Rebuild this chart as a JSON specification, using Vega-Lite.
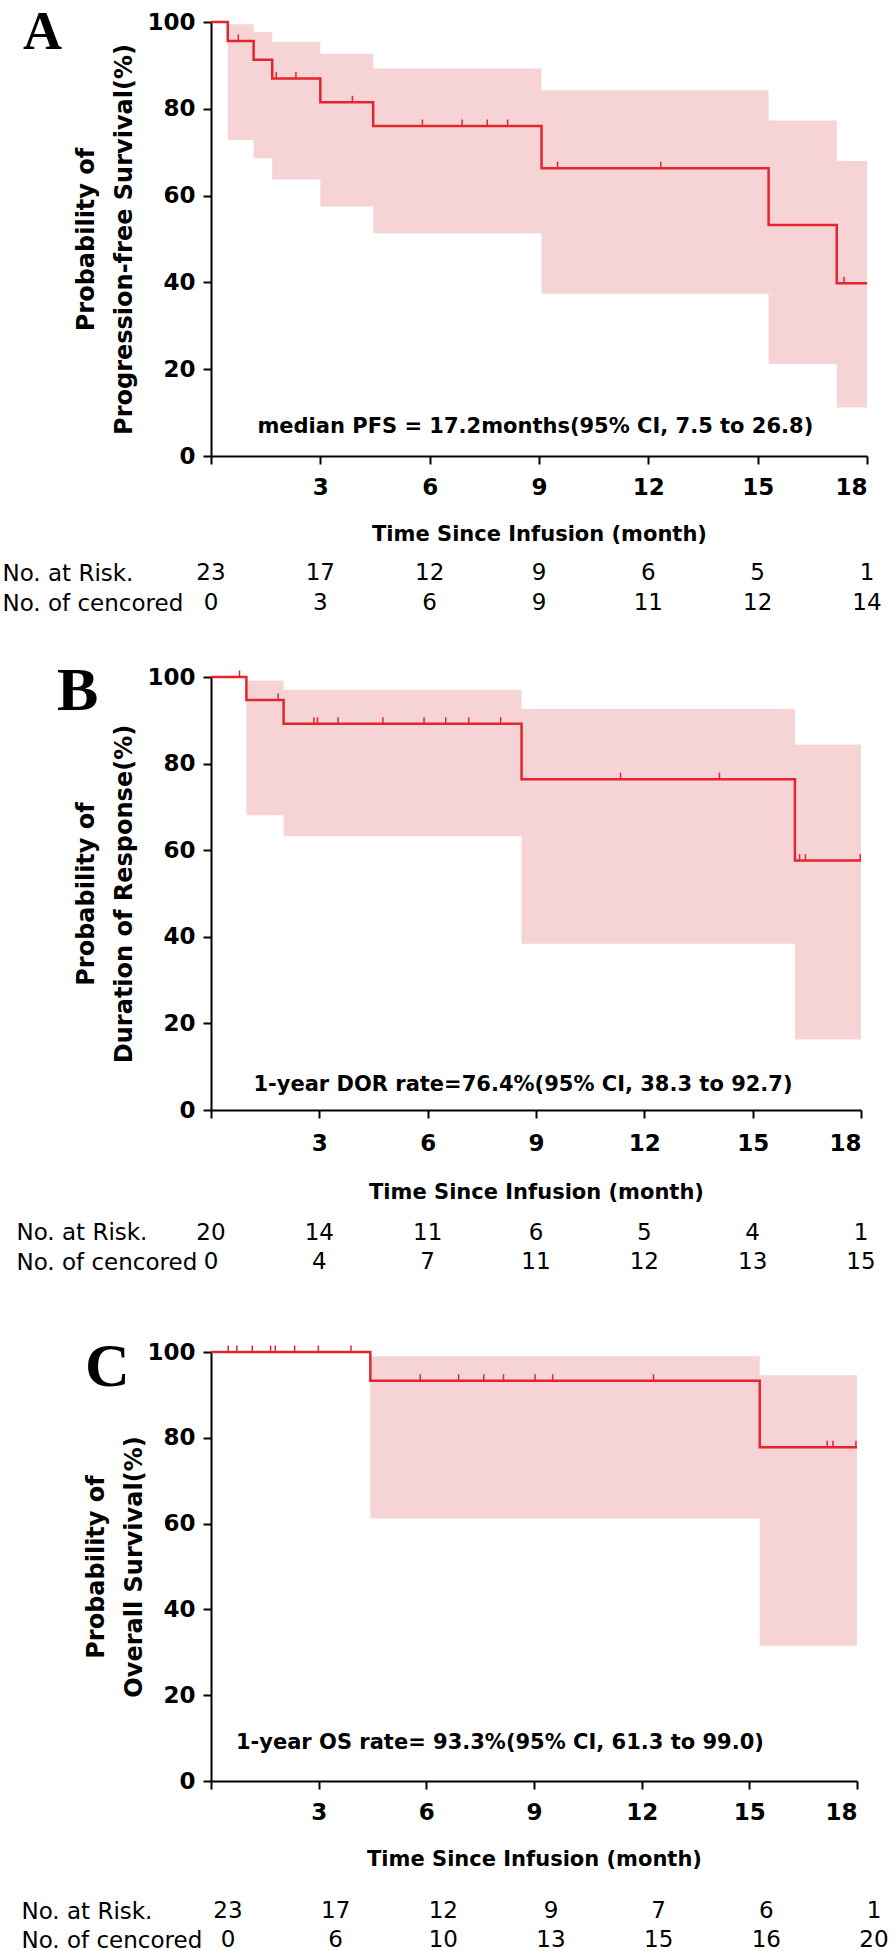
{
  "$schema": "https://vega.github.io/schema/vega-lite/v6.json",
  "background": "white",
  "padding": {"left": 2, "top": 6, "right": 0, "bottom": 0},
  "bounds": "flush",
  "spacing": 0,
  "config": {
    "font": "DejaVu Sans",
    "view": {"stroke": null},
    "axis": {"grid": false, "domainColor": "black", "tickColor": "black", "labelColor": "black", "titleColor": "black"}
  },
  "datasets": {
    "km": [
      {"p": "A", "t": 0, "s": 100}, {"p": "A", "t": 0.46, "s": 95.65}, {"p": "A", "t": 1.17, "s": 91.3}, {"p": "A", "t": 1.68, "s": 86.96}, {"p": "A", "t": 3.0, "s": 81.5}, {"p": "A", "t": 4.45, "s": 76.05}, {"p": "A", "t": 9.07, "s": 66.3}, {"p": "A", "t": 15.3, "s": 53.2}, {"p": "A", "t": 17.17, "s": 39.8}, {"p": "A", "t": 18, "s": 39.8},
      {"p": "B", "t": 0, "s": 100}, {"p": "B", "t": 0.98, "s": 94.7}, {"p": "B", "t": 2.01, "s": 89.2}, {"p": "B", "t": 8.6, "s": 76.4}, {"p": "B", "t": 16.17, "s": 57.6}, {"p": "B", "t": 18, "s": 57.6},
      {"p": "C", "t": 0, "s": 100}, {"p": "C", "t": 4.44, "s": 93.3}, {"p": "C", "t": 15.29, "s": 77.8}, {"p": "C", "t": 18, "s": 77.8}
    ],
    "ci": [
      {"p": "A", "t": 0, "hi": 100, "lo": 100}, {"p": "A", "t": 0.46, "hi": 99.5, "lo": 72.8}, {"p": "A", "t": 1.17, "hi": 97.7, "lo": 68.6}, {"p": "A", "t": 1.68, "hi": 95.4, "lo": 63.7}, {"p": "A", "t": 3.0, "hi": 92.7, "lo": 57.5}, {"p": "A", "t": 4.45, "hi": 89.3, "lo": 51.3}, {"p": "A", "t": 9.07, "hi": 84.3, "lo": 37.4}, {"p": "A", "t": 15.3, "hi": 77.3, "lo": 21.2}, {"p": "A", "t": 17.17, "hi": 68.0, "lo": 11.2}, {"p": "A", "t": 18, "hi": 68.0, "lo": 11.2},
      {"p": "B", "t": 0, "hi": 100, "lo": 100}, {"p": "B", "t": 0.98, "hi": 99.2, "lo": 68.1}, {"p": "B", "t": 2.01, "hi": 97.0, "lo": 63.2}, {"p": "B", "t": 8.6, "hi": 92.6, "lo": 38.4}, {"p": "B", "t": 16.17, "hi": 84.4, "lo": 16.3}, {"p": "B", "t": 18, "hi": 84.4, "lo": 16.3},
      {"p": "C", "t": 0, "hi": 100, "lo": 100}, {"p": "C", "t": 4.44, "hi": 99.0, "lo": 61.2}, {"p": "C", "t": 15.29, "hi": 94.6, "lo": 31.5}, {"p": "C", "t": 18, "hi": 94.6, "lo": 31.5}
    ],
    "cens": [
      {"p": "A", "t": 0.75, "s": 95.65}, {"p": "A", "t": 1.79, "s": 86.96}, {"p": "A", "t": 2.33, "s": 86.96}, {"p": "A", "t": 3.88, "s": 81.5}, {"p": "A", "t": 5.8, "s": 76.05}, {"p": "A", "t": 6.89, "s": 76.05}, {"p": "A", "t": 7.58, "s": 76.05}, {"p": "A", "t": 8.14, "s": 76.05}, {"p": "A", "t": 9.51, "s": 66.3}, {"p": "A", "t": 12.34, "s": 66.3}, {"p": "A", "t": 17.37, "s": 39.8},
      {"p": "B", "t": 0.79, "s": 100}, {"p": "B", "t": 1.86, "s": 94.7}, {"p": "B", "t": 2.85, "s": 89.2}, {"p": "B", "t": 2.95, "s": 89.2}, {"p": "B", "t": 3.52, "s": 89.2}, {"p": "B", "t": 4.76, "s": 89.2}, {"p": "B", "t": 5.9, "s": 89.2}, {"p": "B", "t": 6.5, "s": 89.2}, {"p": "B", "t": 7.14, "s": 89.2}, {"p": "B", "t": 8.02, "s": 89.2}, {"p": "B", "t": 11.34, "s": 76.4}, {"p": "B", "t": 14.08, "s": 76.4}, {"p": "B", "t": 16.3, "s": 57.6}, {"p": "B", "t": 16.46, "s": 57.6}, {"p": "B", "t": 17.98, "s": 57.6},
      {"p": "C", "t": 0.48, "s": 100}, {"p": "C", "t": 0.72, "s": 100}, {"p": "C", "t": 1.15, "s": 100}, {"p": "C", "t": 1.66, "s": 100}, {"p": "C", "t": 1.79, "s": 100}, {"p": "C", "t": 2.33, "s": 100}, {"p": "C", "t": 2.99, "s": 100}, {"p": "C", "t": 3.9, "s": 100}, {"p": "C", "t": 5.83, "s": 93.3}, {"p": "C", "t": 6.9, "s": 93.3}, {"p": "C", "t": 7.6, "s": 93.3}, {"p": "C", "t": 8.15, "s": 93.3}, {"p": "C", "t": 9.03, "s": 93.3}, {"p": "C", "t": 9.52, "s": 93.3}, {"p": "C", "t": 12.33, "s": 93.3}, {"p": "C", "t": 17.17, "s": 77.8}, {"p": "C", "t": 17.33, "s": 77.8}, {"p": "C", "t": 17.97, "s": 77.8}
    ],
    "risk": [
      {"p": "A", "row": "No. at Risk.", "t": 0, "n": 23}, {"p": "A", "row": "No. at Risk.", "t": 3, "n": 17}, {"p": "A", "row": "No. at Risk.", "t": 6, "n": 12}, {"p": "A", "row": "No. at Risk.", "t": 9, "n": 9}, {"p": "A", "row": "No. at Risk.", "t": 12, "n": 6}, {"p": "A", "row": "No. at Risk.", "t": 15, "n": 5}, {"p": "A", "row": "No. at Risk.", "t": 18, "n": 1},
      {"p": "A", "row": "No. of cencored", "t": 0, "n": 0}, {"p": "A", "row": "No. of cencored", "t": 3, "n": 3}, {"p": "A", "row": "No. of cencored", "t": 6, "n": 6}, {"p": "A", "row": "No. of cencored", "t": 9, "n": 9}, {"p": "A", "row": "No. of cencored", "t": 12, "n": 11}, {"p": "A", "row": "No. of cencored", "t": 15, "n": 12}, {"p": "A", "row": "No. of cencored", "t": 18, "n": 14},
      {"p": "B", "row": "No. at Risk.", "t": 0, "n": 20}, {"p": "B", "row": "No. at Risk.", "t": 3, "n": 14}, {"p": "B", "row": "No. at Risk.", "t": 6, "n": 11}, {"p": "B", "row": "No. at Risk.", "t": 9, "n": 6}, {"p": "B", "row": "No. at Risk.", "t": 12, "n": 5}, {"p": "B", "row": "No. at Risk.", "t": 15, "n": 4}, {"p": "B", "row": "No. at Risk.", "t": 18, "n": 1},
      {"p": "B", "row": "No. of cencored", "t": 0, "n": 0}, {"p": "B", "row": "No. of cencored", "t": 3, "n": 4}, {"p": "B", "row": "No. of cencored", "t": 6, "n": 7}, {"p": "B", "row": "No. of cencored", "t": 9, "n": 11}, {"p": "B", "row": "No. of cencored", "t": 12, "n": 12}, {"p": "B", "row": "No. of cencored", "t": 15, "n": 13}, {"p": "B", "row": "No. of cencored", "t": 18, "n": 15},
      {"p": "C", "row": "No. at Risk.", "t": 0, "n": 23}, {"p": "C", "row": "No. at Risk.", "t": 3, "n": 17}, {"p": "C", "row": "No. at Risk.", "t": 6, "n": 12}, {"p": "C", "row": "No. at Risk.", "t": 9, "n": 9}, {"p": "C", "row": "No. at Risk.", "t": 12, "n": 7}, {"p": "C", "row": "No. at Risk.", "t": 15, "n": 6}, {"p": "C", "row": "No. at Risk.", "t": 18, "n": 1},
      {"p": "C", "row": "No. of cencored", "t": 0, "n": 0}, {"p": "C", "row": "No. of cencored", "t": 3, "n": 6}, {"p": "C", "row": "No. of cencored", "t": 6, "n": 10}, {"p": "C", "row": "No. of cencored", "t": 9, "n": 13}, {"p": "C", "row": "No. of cencored", "t": 12, "n": 15}, {"p": "C", "row": "No. of cencored", "t": 15, "n": 16}, {"p": "C", "row": "No. of cencored", "t": 18, "n": 20}
    ]
  },
  "vconcat": [
    {
      "width": 656, "height": 434,
      "title": {"text": "A", "orient": "top", "anchor": "start", "frame": "group", "align": "left", "baseline": "alphabetic", "offset": 0, "dx": -188, "dy": 92, "font": "Liberation Serif", "fontSize": 54, "fontWeight": "bold", "color": "black"},
      "layer": [
        {
          "data": {"name": "ci"}, "transform": [{"filter": "datum.p == 'A'"}],
          "mark": {"type": "area", "interpolate": "step-after", "color": "#f6d4d6", "opacity": 1},
          "encoding": {
            "x": {"field": "t", "type": "quantitative", "scale": {"domain": [0, 18], "nice": false},
              "axis": {"values": [0, 3, 6, 9, 12, 15, 18], "labelExpr": "datum.value == 0 ? '' : datum.label", "domainWidth": 2, "tickWidth": 2, "tickSize": 8, "labelFontSize": 23, "labelFontWeight": "bold", "labelPadding": 12, "title": "Time Since Infusion (month)", "titleFontSize": 21, "titleFontWeight": "bold", "titlePadding": 24}},
            "y": {"field": "hi", "type": "quantitative", "scale": {"domain": [0, 100], "nice": false},
              "axis": {"values": [0, 20, 40, 60, 80, 100], "domainWidth": 2, "tickWidth": 2, "tickSize": 8, "labelFontSize": 23, "labelFontWeight": "bold", "labelPadding": 8, "title": ["Probability of", "Progression-free Survival(%)"], "titleFontSize": 24, "titleFontWeight": "bold", "titleLineHeight": 38, "titlePadding": 10}},
            "y2": {"field": "lo"}
          }
        },
        {
          "data": {"name": "km"}, "transform": [{"filter": "datum.p == 'A'"}],
          "mark": {"type": "line", "interpolate": "step-after", "color": "#e4252d", "strokeWidth": 2.5},
          "encoding": {"x": {"field": "t", "type": "quantitative"}, "y": {"field": "s", "type": "quantitative"}}
        },
        {
          "data": {"name": "cens"}, "transform": [{"filter": "datum.p == 'A'"}],
          "mark": {"type": "tick", "orient": "vertical", "color": "#e4252d", "thickness": 1.5, "size": 7, "yOffset": -3, "opacity": 1},
          "encoding": {"x": {"field": "t", "type": "quantitative"}, "y": {"field": "s", "type": "quantitative"}}
        },
        {
          "data": {"values": [{}]},
          "mark": {"type": "text", "fontSize": 21, "fontWeight": "bold", "color": "black", "align": "center", "baseline": "middle"},
          "encoding": {"x": {"datum": 8.9, "type": "quantitative"}, "y": {"datum": 6.7, "type": "quantitative"}, "text": {"value": "median PFS = 17.2months(95% CI, 7.5 to 26.8)"}}
        }
      ]
    },
    {
      "width": 656, "height": 221,
      "data": {"name": "risk"}, "transform": [{"filter": "datum.p == 'A'"}],
      "mark": {"type": "text", "fontSize": 23, "color": "black", "align": "center", "baseline": "middle"},
      "encoding": {
        "x": {"field": "t", "type": "quantitative", "scale": {"domain": [0, 18], "nice": false}, "axis": null},
        "y": {"field": "row", "type": "nominal", "scale": {"type": "point", "domain": ["No. at Risk.", "No. of cencored"], "range": [117, 147], "padding": 0},
          "axis": {"domain": false, "ticks": false, "labelAlign": "left", "labelBaseline": "middle", "labelPadding": 209, "labelLimit": 0, "labelFontSize": 23, "labelColor": "black", "title": null}},
        "text": {"field": "n", "type": "quantitative"}
      }
    },
    {
      "width": 650, "height": 433,
      "title": {"text": "B", "orient": "top", "anchor": "start", "frame": "group", "align": "left", "baseline": "alphabetic", "offset": 0, "dx": -154, "dy": 106, "font": "Liberation Serif", "fontSize": 62, "fontWeight": "bold", "color": "black"},
      "layer": [
        {
          "data": {"name": "ci"}, "transform": [{"filter": "datum.p == 'B'"}],
          "mark": {"type": "area", "interpolate": "step-after", "color": "#f6d4d6", "opacity": 1},
          "encoding": {
            "x": {"field": "t", "type": "quantitative", "scale": {"domain": [0, 18], "nice": false},
              "axis": {"values": [0, 3, 6, 9, 12, 15, 18], "labelExpr": "datum.value == 0 ? '' : datum.label", "domainWidth": 2, "tickWidth": 2, "tickSize": 8, "labelFontSize": 23, "labelFontWeight": "bold", "labelPadding": 14, "title": "Time Since Infusion (month)", "titleFontSize": 21, "titleFontWeight": "bold", "titlePadding": 26}},
            "y": {"field": "hi", "type": "quantitative", "scale": {"domain": [0, 100], "nice": false},
              "axis": {"values": [0, 20, 40, 60, 80, 100], "domainWidth": 2, "tickWidth": 2, "tickSize": 8, "labelFontSize": 23, "labelFontWeight": "bold", "labelPadding": 8, "title": ["Probability of", "Duration of Response(%)"], "titleFontSize": 24, "titleFontWeight": "bold", "titleLineHeight": 38, "titlePadding": 10}},
            "y2": {"field": "lo"}
          }
        },
        {
          "data": {"name": "km"}, "transform": [{"filter": "datum.p == 'B'"}],
          "mark": {"type": "line", "interpolate": "step-after", "color": "#e4252d", "strokeWidth": 2.5},
          "encoding": {"x": {"field": "t", "type": "quantitative"}, "y": {"field": "s", "type": "quantitative"}}
        },
        {
          "data": {"name": "cens"}, "transform": [{"filter": "datum.p == 'B'"}],
          "mark": {"type": "tick", "orient": "vertical", "color": "#e4252d", "thickness": 1.5, "size": 7, "yOffset": -3, "opacity": 1},
          "encoding": {"x": {"field": "t", "type": "quantitative"}, "y": {"field": "s", "type": "quantitative"}}
        },
        {
          "data": {"values": [{}]},
          "mark": {"type": "text", "fontSize": 21, "fontWeight": "bold", "color": "black", "align": "center", "baseline": "middle"},
          "encoding": {"x": {"datum": 8.64, "type": "quantitative"}, "y": {"datum": 5.8, "type": "quantitative"}, "text": {"value": "1-year DOR rate=76.4%(95% CI, 38.3 to 92.7)"}}
        }
      ]
    },
    {
      "width": 650, "height": 242,
      "data": {"name": "risk"}, "transform": [{"filter": "datum.p == 'B'"}],
      "mark": {"type": "text", "fontSize": 23, "color": "black", "align": "center", "baseline": "middle"},
      "encoding": {
        "x": {"field": "t", "type": "quantitative", "scale": {"domain": [0, 18], "nice": false}, "axis": null},
        "y": {"field": "row", "type": "nominal", "scale": {"type": "point", "domain": ["No. at Risk.", "No. of cencored"], "range": [122.7, 152.2], "padding": 0},
          "axis": {"domain": false, "ticks": false, "labelAlign": "left", "labelBaseline": "middle", "labelPadding": 195, "labelLimit": 0, "labelFontSize": 23, "labelColor": "black", "title": null}},
        "text": {"field": "n", "type": "quantitative"}
      }
    },
    {
      "width": 646, "height": 429,
      "title": {"text": "C", "orient": "top", "anchor": "start", "frame": "group", "align": "left", "baseline": "alphabetic", "offset": 0, "dx": -126, "dy": 107, "font": "Liberation Serif", "fontSize": 62, "fontWeight": "bold", "color": "black"},
      "layer": [
        {
          "data": {"name": "ci"}, "transform": [{"filter": "datum.p == 'C'"}],
          "mark": {"type": "area", "interpolate": "step-after", "color": "#f6d4d6", "opacity": 1},
          "encoding": {
            "x": {"field": "t", "type": "quantitative", "scale": {"domain": [0, 18], "nice": false},
              "axis": {"values": [0, 3, 6, 9, 12, 15, 18], "labelExpr": "datum.value == 0 ? '' : datum.label", "domainWidth": 2, "tickWidth": 2, "tickSize": 8, "labelFontSize": 23, "labelFontWeight": "bold", "labelPadding": 12, "title": "Time Since Infusion (month)", "titleFontSize": 21, "titleFontWeight": "bold", "titlePadding": 24}},
            "y": {"field": "hi", "type": "quantitative", "scale": {"domain": [0, 100], "nice": false},
              "axis": {"values": [0, 20, 40, 60, 80, 100], "domainWidth": 2, "tickWidth": 2, "tickSize": 8, "labelFontSize": 23, "labelFontWeight": "bold", "labelPadding": 8, "title": ["Probability of", "Overall Survival(%)"], "titleFontSize": 24, "titleFontWeight": "bold", "titleLineHeight": 38, "titlePadding": 0}},
            "y2": {"field": "lo"}
          }
        },
        {
          "data": {"name": "km"}, "transform": [{"filter": "datum.p == 'C'"}],
          "mark": {"type": "line", "interpolate": "step-after", "color": "#e4252d", "strokeWidth": 2.5},
          "encoding": {"x": {"field": "t", "type": "quantitative"}, "y": {"field": "s", "type": "quantitative"}}
        },
        {
          "data": {"name": "cens"}, "transform": [{"filter": "datum.p == 'C'"}],
          "mark": {"type": "tick", "orient": "vertical", "color": "#e4252d", "thickness": 1.5, "size": 7, "yOffset": -3, "opacity": 1},
          "encoding": {"x": {"field": "t", "type": "quantitative"}, "y": {"field": "s", "type": "quantitative"}}
        },
        {
          "data": {"values": [{}]},
          "mark": {"type": "text", "fontSize": 21, "fontWeight": "bold", "color": "black", "align": "center", "baseline": "middle"},
          "encoding": {"x": {"datum": 8.05, "type": "quantitative"}, "y": {"datum": 8.9, "type": "quantitative"}, "text": {"value": "1-year OS rate= 93.3%(95% CI, 61.3 to 99.0)"}}
        }
      ]
    },
    {
      "width": 646, "height": 165,
      "data": {"name": "risk"}, "transform": [{"filter": "datum.p == 'C'"}],
      "mark": {"type": "text", "fontSize": 23, "color": "black", "align": "center", "baseline": "middle", "dx": 17},
      "encoding": {
        "x": {"field": "t", "type": "quantitative", "scale": {"domain": [0, 18], "nice": false}, "axis": null},
        "y": {"field": "row", "type": "nominal", "scale": {"type": "point", "domain": ["No. at Risk.", "No. of cencored"], "range": [130, 159], "padding": 0},
          "axis": {"domain": false, "ticks": false, "labelAlign": "left", "labelBaseline": "middle", "labelPadding": 190, "labelLimit": 0, "labelFontSize": 23, "labelColor": "black", "title": null}},
        "text": {"field": "n", "type": "quantitative"}
      }
    }
  ]
}
